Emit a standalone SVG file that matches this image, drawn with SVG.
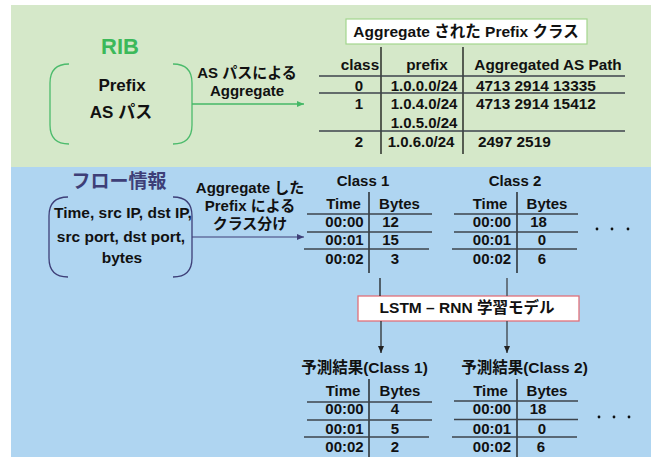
<svg xmlns="http://www.w3.org/2000/svg" width="651" height="457" viewBox="0 0 651 457">
<defs>
<style>
text{font-family:"Liberation Sans","Noto Sans CJK JP",Arial,sans-serif;font-weight:bold;fill:#111;}
.c{text-anchor:middle;}
.s15{font-size:15px;}
.s155{font-size:15.5px;}
.hl{stroke:#3c434b;stroke-width:1.6;}
.vl{stroke:#111;stroke-width:1.3;}
.dot{fill:#111;}
</style>
<marker id="ag" markerWidth="8" markerHeight="8" refX="7" refY="4" orient="auto" markerUnits="userSpaceOnUse"><path d="M0,1 L7,4 L0,7 z" fill="#45b866"/></marker>
<marker id="an" markerWidth="8" markerHeight="8" refX="7" refY="4" orient="auto" markerUnits="userSpaceOnUse"><path d="M0,1 L7,4 L0,7 z" fill="#3e3f78"/></marker>
<marker id="ak" markerWidth="8" markerHeight="8" refX="7" refY="4" orient="auto" markerUnits="userSpaceOnUse"><path d="M0,1 L7,4 L0,7 z" fill="#222"/></marker>
</defs>
<rect x="11" y="5" width="640" height="162" fill="#d5e8c9"/>
<rect x="11" y="167" width="640" height="290" fill="#afd5f1"/>

<g id="rib">
<text class="c" x="120" y="54" style="font-size:22px;fill:#3cb95a">RIB</text>
<path d="M69,64 Q50,64 50,83 L50,125 Q50,144 69,144 M173,64 Q192,64 192,83 L192,125 Q192,144 173,144" fill="none" stroke="#4cbb6c" stroke-width="1.3"/>
<text class="c" x="122" y="91" style="font-size:17px">Prefix</text>
<text class="c" x="121" y="118" style="font-size:17px">AS パス</text>
</g>

<g id="prefix-class">
<rect x="346" y="19" width="241" height="25" fill="#fff" stroke="#a3d68e" stroke-width="1.2"/>
<text class="c s155" x="466" y="37">Aggregate された Prefix クラス</text>
<line class="vl" x1="381" y1="47" x2="381" y2="154"/>
<line class="vl" x1="463" y1="47" x2="463" y2="154"/>
<line class="hl" x1="319" y1="76" x2="625" y2="76"/>
<line class="hl" x1="319" y1="93" x2="625" y2="93"/>
<line class="hl" x1="319" y1="131" x2="625" y2="131"/>
<text class="c" x="360" y="70" style="font-size:15.3px">class</text>
<text class="c" x="427" y="70" style="font-size:15.3px">prefix</text>
<text class="c" x="548" y="70" style="font-size:15.3px">Aggregated AS Path</text>
<text class="c s15" x="359" y="91">0</text>
<text class="c s15" x="359" y="109">1</text>
<text class="c s15" x="359" y="147">2</text>
<text class="c s15" x="424" y="91">1.0.0.0/24</text>
<text class="c s15" x="424" y="109">1.0.4.0/24</text>
<text class="c s15" x="424" y="128">1.0.5.0/24</text>
<text class="c s15" x="421" y="147">1.0.6.0/24</text>
<text x="476" y="91" style="font-size:15.4px">4713 2914 13335</text>
<text x="476" y="109" style="font-size:15.4px">4713 2914 15412</text>
<text x="478" y="147" style="font-size:15.4px">2497 2519</text>
</g>

<g id="flow">
<text class="c" x="119" y="188" style="font-size:19px;fill:#3e3f78">フロー情報</text>
<path d="M68,197 Q49,197 49,216 L49,258 Q49,277 68,277 M173,197 Q192,197 192,216 L192,258 Q192,277 173,277" fill="none" stroke="#3e3f78" stroke-width="1.3"/>
<text class="c s155" x="123" y="218">Time, src IP, dst IP,</text>
<text class="c s155" x="121" y="242">src port, dst port,</text>
<text class="c s155" x="122" y="263">bytes</text>
</g>

<g id="class1">
<text class="c s15" x="363" y="186">Class 1</text>
<line class="vl" x1="369" y1="192" x2="369" y2="273"/>
<line class="hl" x1="307" y1="214" x2="432" y2="214"/>
<line class="hl" x1="307" y1="232" x2="432" y2="232"/>
<line class="hl" x1="304" y1="249" x2="429" y2="249"/>
<text class="c s15" x="343.5" y="209">Time</text>
<text class="c s15" x="399.5" y="209">Bytes</text>
<text class="c s15" x="344.5" y="227">00:00</text>
<text class="c s15" x="344.5" y="245">00:01</text>
<text class="c s15" x="344.5" y="264">00:02</text>
<text class="c s15" x="390.5" y="227">12</text>
<text class="c s15" x="390.5" y="245">15</text>
<text class="c s15" x="395" y="264">3</text>
</g>

<g id="class2">
<text class="c s15" x="515" y="186">Class 2</text>
<line class="vl" x1="517" y1="192" x2="517" y2="273"/>
<line class="hl" x1="454" y1="214" x2="578" y2="214"/>
<line class="hl" x1="454" y1="232" x2="578" y2="232"/>
<line class="hl" x1="452" y1="249" x2="577" y2="249"/>
<text class="c s15" x="490" y="209">Time</text>
<text class="c s15" x="547" y="209">Bytes</text>
<text class="c s15" x="492" y="227">00:00</text>
<text class="c s15" x="492" y="245">00:01</text>
<text class="c s15" x="492" y="264">00:02</text>
<text class="c s15" x="538.5" y="227">18</text>
<text class="c s15" x="542" y="245">0</text>
<text class="c s15" x="542" y="264">6</text>
<circle class="dot" cx="597" cy="229" r="1.4"/>
<circle class="dot" cx="612" cy="229" r="1.4"/>
<circle class="dot" cx="628" cy="229" r="1.4"/>
</g>

<g id="lstm">
<rect x="358" y="296" width="221" height="25" fill="#fff" stroke="#e0707a" stroke-width="1.3"/>
<text class="c s155" x="467" y="313">LSTM – RNN 学習モデル</text>
</g>

<g id="pred1">
<text class="c s155" x="364.5" y="373">予測結果(Class 1)</text>
<line class="vl" x1="369" y1="379" x2="369" y2="457"/>
<line class="hl" x1="307" y1="402" x2="432" y2="402"/>
<line class="hl" x1="307" y1="420" x2="432" y2="420"/>
<line class="hl" x1="304" y1="437" x2="429" y2="437"/>
<text class="c s15" x="343" y="396">Time</text>
<text class="c s15" x="400" y="396">Bytes</text>
<text class="c s15" x="344.5" y="414">00:00</text>
<text class="c s15" x="344.5" y="434">00:01</text>
<text class="c s15" x="344.5" y="452">00:02</text>
<text class="c s15" x="395" y="414">4</text>
<text class="c s15" x="395" y="434">5</text>
<text class="c s15" x="395" y="452">2</text>
</g>

<g id="pred2">
<text class="c s155" x="524.5" y="373">予測結果(Class 2)</text>
<line class="vl" x1="517" y1="379" x2="517" y2="457"/>
<line class="hl" x1="454" y1="401" x2="578" y2="401"/>
<line class="hl" x1="454" y1="419.5" x2="578" y2="419.5"/>
<line class="hl" x1="452" y1="437" x2="577" y2="437"/>
<text class="c s15" x="490.5" y="396">Time</text>
<text class="c s15" x="547" y="396">Bytes</text>
<text class="c s15" x="492" y="414">00:00</text>
<text class="c s15" x="492" y="434">00:01</text>
<text class="c s15" x="492" y="452">00:02</text>
<text class="c s15" x="538" y="414">18</text>
<text class="c s15" x="542" y="434">0</text>
<text class="c s15" x="541" y="452">6</text>
<circle class="dot" cx="599" cy="417" r="1.4"/>
<circle class="dot" cx="614" cy="417" r="1.4"/>
<circle class="dot" cx="629" cy="417" r="1.4"/>
</g>

<g id="connectors">
<line x1="192" y1="104" x2="304" y2="104" stroke="#45b866" stroke-width="1.4" marker-end="url(#ag)"/>
<text class="c s15" x="247" y="78">AS パスによる</text>
<text class="c s15" x="247" y="96">Aggregate</text>
<line x1="192" y1="237" x2="304" y2="237" stroke="#3e3f78" stroke-width="1.2" marker-end="url(#an)"/>
<text class="c s15" x="250" y="193">Aggregate した</text>
<text class="c s15" x="250" y="211">Prefix による</text>
<text class="c s15" x="250" y="229">クラス分け</text>
<line x1="380" y1="278" x2="380" y2="296" stroke="#111" stroke-width="1.2"/>
<line x1="507" y1="278" x2="507" y2="296" stroke="#555e68" stroke-width="1.6"/>
<line x1="381" y1="321" x2="381" y2="353" stroke="#222" stroke-width="1.2" marker-end="url(#ak)"/>
<line x1="507" y1="321" x2="507" y2="353" stroke="#444c55" stroke-width="1.4" marker-end="url(#ak)"/>
</g>
</svg>
